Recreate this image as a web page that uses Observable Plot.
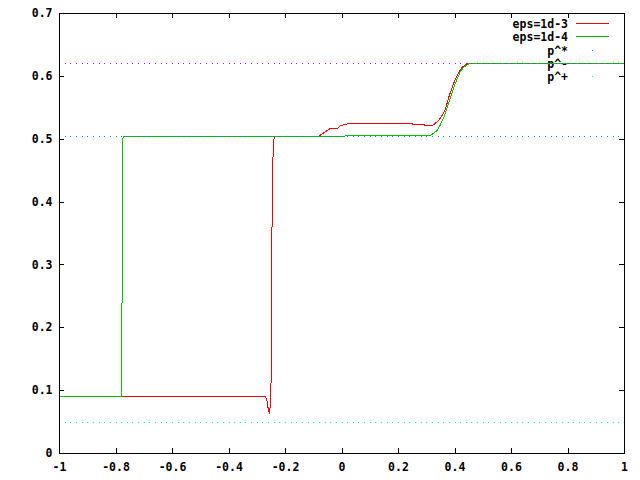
<!DOCTYPE html>
<html><head><meta charset="utf-8">
<script src="https://cdn.jsdelivr.net/npm/d3@7"></script>
<script src="https://cdn.jsdelivr.net/npm/@observablehq/plot@0.6"></script>
<style>html,body{margin:0;padding:0;background:#fff}svg{display:block}</style>
</head><body><div id="chart"></div>
<script>
// ---- data ----
const seriesNames = ["eps=1d-3", "eps=1d-4"];
const seriesColors = ["#ff0000", "#00c000"];

const red_x = [-1, -0.78, -0.2708, -0.2655, -0.2619, -0.2584, -0.2556, -0.2506, -0.2485, -0.246, -0.2425, -0.2389,
  -0.0821, -0.0432, -0.017, -0.0053, 0.0205, 0.249, 0.25, 0.293, 0.294, 0.318,
  0.325, 0.3427, 0.3547, 0.3664, 0.378, 0.390, 0.4018, 0.4135, 0.4255, 0.4432, 1];
const red_y = [0.0907, 0.0907, 0.0907, 0.0843, 0.0732, 0.0668, 0.0636, 0.119, 0.323, 0.446, 0.495, 0.505,
  0.505, 0.5166, 0.5166, 0.5218, 0.5245, 0.5245, 0.523, 0.523, 0.5215, 0.5215,
  0.5234, 0.530, 0.538, 0.5484, 0.5668, 0.5827, 0.5961, 0.6066, 0.6146, 0.620, 0.620];

const green_x = [-1, -0.7805, -0.7795, -0.777, -0.7735, 0.010, 0.011, 0.313,
  0.337, 0.3487, 0.3604, 0.3724, 0.3841, 0.3958, 0.4078, 0.4195, 0.4312, 0.4488, 1];
const green_y = [0.0907, 0.0907, 0.1135, 0.4995, 0.505, 0.505, 0.506, 0.506,
  0.5138, 0.5234, 0.535, 0.5509, 0.5668, 0.5827, 0.5961, 0.6082, 0.6146, 0.620, 0.620];

const refNames = ["p^*", "p^-", "p^+"];
const refValues = [0.505, 0.62, 0.05];
const refColors = ["#0080ff", "#c000ff", "#00eeee"];

const xTicks = [-1, -0.8, -0.6, -0.4, -0.2, 0, 0.2, 0.4, 0.6, 0.8, 1];
const yTicks = [0, 0.1, 0.2, 0.3, 0.4, 0.5, 0.6, 0.7];

// ---- layout ----
const W = 640, H = 480, mL = 59, mR = 16, mT = 13, mB = 27;
const plotH = H - mT - mB, plotW = W - mL - mR, TL = 5;

const red = red_x.map((x, i) => ({x, y: red_y[i]}));
const green = green_x.map((x, i) => ({x, y: green_y[i]}));

function legend(index, scales, values, dims) {
  const right = dims.width - dims.marginRight;
  const g = d3.create("svg:g");
  const entries = seriesNames.map((n, i) => ({name: n, color: seriesColors[i], kind: "line"}))
    .concat(refNames.map((n, i) => ({name: n, color: refColors[i], kind: "dot"})));
  entries.forEach((e, i) => {
    const y = Math.round(dims.marginTop + 10 + i * 13.25);
    g.append("text").attr("x", right - 56).attr("y", y + 0.5)
      .attr("text-anchor", "end").attr("dy", "0.38em")
      .attr("fill", "black").text(e.name);
    if (e.kind === "line") {
      g.append("line").attr("x1", right - 48).attr("x2", right - 15)
        .attr("y1", y + 0.5).attr("y2", y + 0.5)
        .attr("stroke", e.color).attr("stroke-width", 1).attr("shape-rendering", "crispEdges");
    } else {
      g.append("rect").attr("x", right - 32).attr("y", y)
        .attr("width", 1).attr("height", 1).attr("fill", e.color);
    }
  });
  return g.node();
}

const crisp = {shapeRendering: "crispEdges"};
const chart = Plot.plot({
  width: W, height: H,
  marginLeft: mL, marginRight: mR, marginTop: mT, marginBottom: mB,
  x: {domain: [-1, 1]},
  y: {domain: [0, 0.7]},
  style: {fontFamily: "'DejaVu Sans Mono', monospace", fontSize: "11.5px", fontWeight: "bold", color: "black", background: "white"},
  marks: [
    legend,
    Plot.line(red, {x: "x", y: "y", stroke: seriesColors[0], strokeWidth: 1, ...crisp}),
    Plot.line(green, {x: "x", y: "y", stroke: seriesColors[1], strokeWidth: 1, ...crisp}),
    ...refValues.map((v, i) => Plot.ruleY([v], {y: d => d, x1: -1, x2: 1, stroke: refColors[i], strokeWidth: 1, strokeDasharray: "1 4.65", ...crisp})),
    // inward ticks on all four sides
    Plot.ruleX(xTicks, {x: d => d, insetTop: plotH - TL, stroke: "black", ...crisp}),
    Plot.ruleX(xTicks, {x: d => d, insetBottom: plotH - TL, stroke: "black", ...crisp}),
    Plot.ruleY(yTicks, {y: d => d, insetRight: plotW - TL, stroke: "black", ...crisp}),
    Plot.ruleY(yTicks, {y: d => d, insetLeft: plotW - TL, stroke: "black", ...crisp}),
    Plot.axisX({ticks: xTicks, tickSize: 0, tickPadding: 9, tickFormat: d => String(d), label: null}),
    Plot.axisY({ticks: yTicks, tickSize: 0, tickPadding: 7, tickFormat: d => String(d), label: null}),
    Plot.frame({stroke: "black", ...crisp})
  ]
});
document.getElementById("chart").appendChild(chart);
</script>
</body></html>
